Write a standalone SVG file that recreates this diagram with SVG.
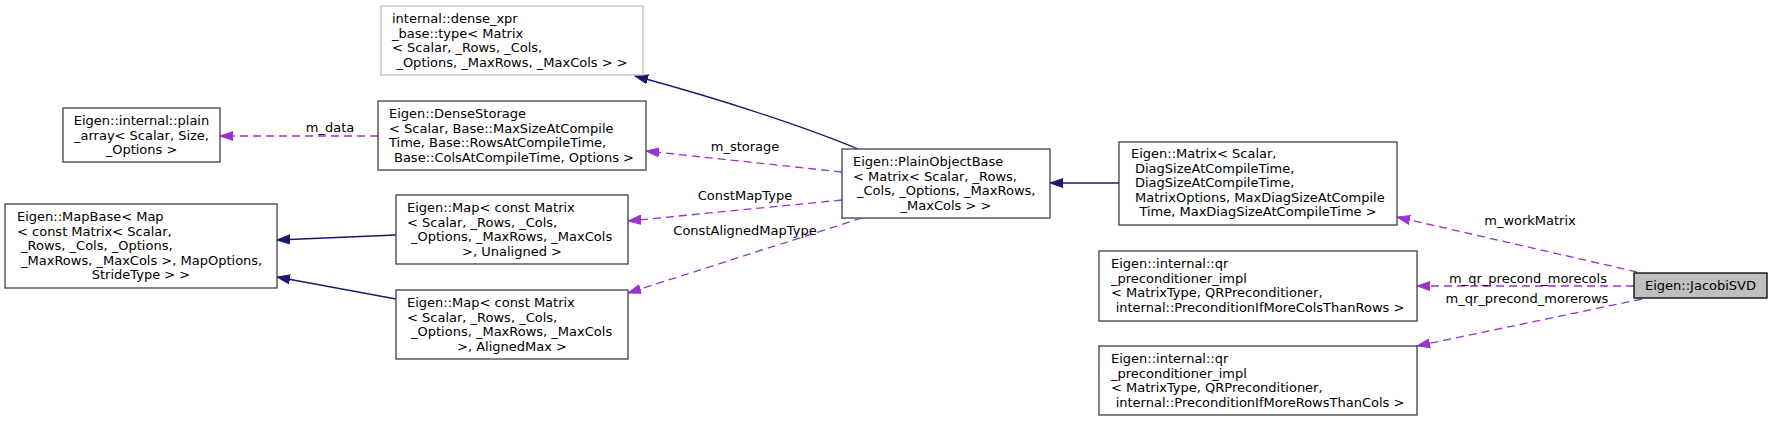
<svg xmlns="http://www.w3.org/2000/svg" width="1772" height="421" viewBox="0 0 1772 421">
<defs>
<style>
text{font-family:"DejaVu Sans","Liberation Sans",sans-serif;font-size:13px;fill:#000}
.box{fill:#fff;stroke:#404040;stroke-width:1.3}
.gbox{fill:#fff;stroke:#bfbfbf;stroke-width:1.3}
.sel{fill:#bfbfbf;stroke:#000;stroke-width:1.3}
.inh{fill:none;stroke:#191970;stroke-width:1.3}
.use{fill:none;stroke:#9a32cd;stroke-width:1.3;stroke-dasharray:8,5}
.c{text-anchor:middle}
</style>
<marker id="an" markerUnits="userSpaceOnUse" markerWidth="14" markerHeight="10" refX="13" refY="5" orient="auto"><polygon points="0,0.5 13,5 0,9.5" fill="#191970" stroke="#191970"/></marker>
<marker id="ap" markerUnits="userSpaceOnUse" markerWidth="14" markerHeight="10" refX="13" refY="5" orient="auto"><polygon points="0,0.5 13,5 0,9.5" fill="#9a32cd" stroke="#9a32cd"/></marker>
</defs>
<rect width="1772" height="421" fill="#fff"/>
<g id="connectors">
<path class="inh" d="M858,149 C815,131 735,103 635,76" marker-end="url(#an)"/>
<path class="inh" d="M1119,183 L1050,183" marker-end="url(#an)"/>
<path class="inh" d="M396,235 L277,240" marker-end="url(#an)"/>
<path class="inh" d="M396,299 L277,277" marker-end="url(#an)"/>
<path class="use" d="M378,136 L220,136" marker-end="url(#ap)"/>
<text class="c" x="330" y="132">m_data</text>
<path class="use" d="M842,172 L646,151" marker-end="url(#ap)"/>
<text class="c" x="745" y="151">m_storage</text>
<path class="use" d="M842,200 L628,221" marker-end="url(#ap)"/>
<text class="c" x="745" y="200">ConstMapType</text>
<path class="use" d="M862,218 L628,293" marker-end="url(#ap)"/>
<text class="c" x="745" y="235">ConstAlignedMapType</text>
<path class="use" d="M1637,272 L1397,217" marker-end="url(#ap)"/>
<text class="c" x="1530" y="225">m_workMatrix</text>
<path class="use" d="M1634,286 L1417,286" marker-end="url(#ap)"/>
<text class="c" x="1528" y="283">m_qr_precond_morecols</text>
<path class="use" d="M1642,299 L1417,346" marker-end="url(#ap)"/>
<text class="c" x="1527" y="303">m_qr_precond_morerows</text>
</g>
<g id="node_dense_xpr">
<rect class="gbox" x="381" y="6" width="262" height="69"/>
<text x="392" y="23">internal::dense_xpr</text>
<text x="392" y="37.5">_base::type&lt; Matrix</text>
<text x="392" y="52">&lt; Scalar, _Rows, _Cols,</text>
<text class="c" x="512" y="66.5">_Options, _MaxRows, _MaxCols &gt; &gt;</text>
</g>
<g id="node_densestorage">
<rect class="box" x="378" y="101" width="268" height="69"/>
<text x="389" y="118">Eigen::DenseStorage</text>
<text x="389" y="132.5">&lt; Scalar, Base::MaxSizeAtCompile</text>
<text x="389" y="147">Time, Base::RowsAtCompileTime,</text>
<text class="c" x="514" y="161.5">Base::ColsAtCompileTime, Options &gt;</text>
</g>
<g id="node_plain_array">
<rect class="box" x="63" y="108" width="157" height="54"/>
<text class="c" x="141.5" y="125">Eigen::internal::plain</text>
<text class="c" x="141.5" y="139.5">_array&lt; Scalar, Size,</text>
<text class="c" x="141.5" y="154">_Options &gt;</text>
</g>
<g id="node_mapbase">
<rect class="box" x="5" y="204" width="272" height="84"/>
<text x="17" y="221">Eigen::MapBase&lt; Map</text>
<text x="17" y="235.5">&lt; const Matrix&lt; Scalar,</text>
<text x="21" y="250">_Rows, _Cols, _Options,</text>
<text x="21" y="264.5">_MaxRows, _MaxCols &gt;, MapOptions,</text>
<text class="c" x="141" y="279">StrideType &gt; &gt;</text>
</g>
<g id="node_map_unaligned">
<rect class="box" x="396" y="195" width="232" height="69"/>
<text x="407" y="212">Eigen::Map&lt; const Matrix</text>
<text x="407" y="226.5">&lt; Scalar, _Rows, _Cols,</text>
<text x="411" y="241">_Options, _MaxRows, _MaxCols</text>
<text class="c" x="512" y="255.5">&gt;, Unaligned &gt;</text>
</g>
<g id="node_map_alignedmax">
<rect class="box" x="396" y="290" width="232" height="69"/>
<text x="407" y="307">Eigen::Map&lt; const Matrix</text>
<text x="407" y="321.5">&lt; Scalar, _Rows, _Cols,</text>
<text x="411" y="336">_Options, _MaxRows, _MaxCols</text>
<text class="c" x="512" y="350.5">&gt;, AlignedMax &gt;</text>
</g>
<g id="node_plainobjectbase">
<rect class="box" x="842" y="149" width="208" height="69"/>
<text x="853" y="166">Eigen::PlainObjectBase</text>
<text x="853" y="180.5">&lt; Matrix&lt; Scalar, _Rows,</text>
<text x="857" y="195">_Cols, _Options, _MaxRows,</text>
<text class="c" x="946" y="209.5">_MaxCols &gt; &gt;</text>
</g>
<g id="node_matrix">
<rect class="box" x="1119" y="142" width="278" height="83"/>
<text x="1131" y="158">Eigen::Matrix&lt; Scalar,</text>
<text x="1135" y="172.5">DiagSizeAtCompileTime,</text>
<text x="1135" y="187">DiagSizeAtCompileTime,</text>
<text x="1135" y="201.5">MatrixOptions, MaxDiagSizeAtCompile</text>
<text class="c" x="1258" y="216">Time, MaxDiagSizeAtCompileTime &gt;</text>
</g>
<g id="node_qr_morecols">
<rect class="box" x="1099" y="251" width="318" height="70"/>
<text x="1111" y="268">Eigen::internal::qr</text>
<text x="1111" y="282.5">_preconditioner_impl</text>
<text x="1111" y="297">&lt; MatrixType, QRPreconditioner,</text>
<text class="c" x="1260" y="311.5">internal::PreconditionIfMoreColsThanRows &gt;</text>
</g>
<g id="node_qr_morerows">
<rect class="box" x="1099" y="346" width="318" height="69"/>
<text x="1111" y="363">Eigen::internal::qr</text>
<text x="1111" y="377.5">_preconditioner_impl</text>
<text x="1111" y="392">&lt; MatrixType, QRPreconditioner,</text>
<text class="c" x="1260" y="406.5">internal::PreconditionIfMoreRowsThanCols &gt;</text>
</g>
<g id="node_jacobisvd">
<rect class="sel" x="1634" y="273" width="133" height="25"/>
<text class="c" x="1700.5" y="290">Eigen::JacobiSVD</text>
</g>
</svg>
